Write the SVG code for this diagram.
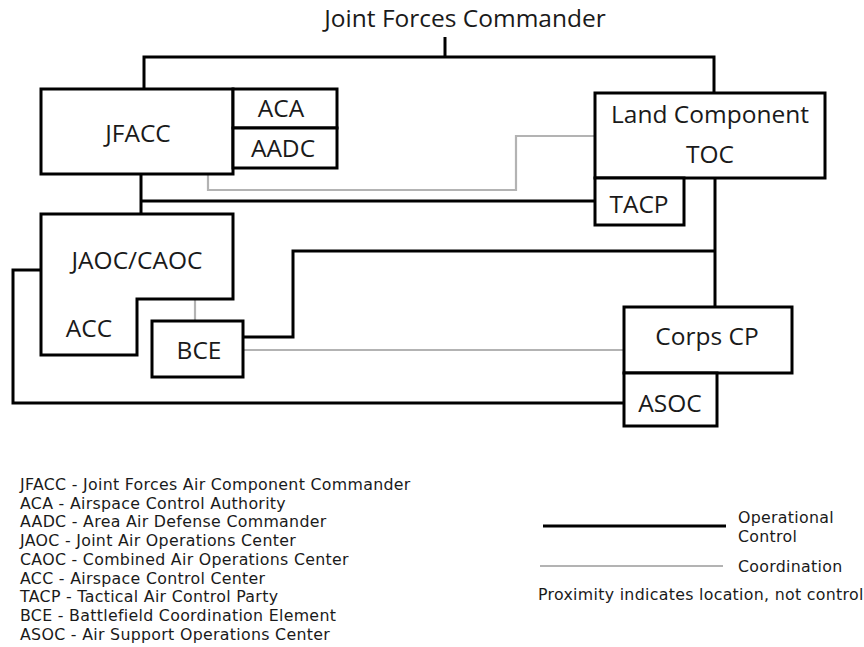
<svg xmlns="http://www.w3.org/2000/svg" width="864" height="647" viewBox="0 0 864 647">
<style>
text{font-family:"Open Sans","Noto Sans","DejaVu Sans",sans-serif;fill:#1a1a1a}
.lbl{font-size:24.5px;text-anchor:middle}
.leg{font-family:"DejaVu Sans","Open Sans",sans-serif;font-size:15.8px;letter-spacing:0.3px}
.box{fill:#fff;stroke:#000;stroke-width:3}
.ctl{fill:none;stroke:#000;stroke-width:3}
.crd{fill:none;stroke:#b3b3b3;stroke-width:2.2}
</style>
<rect width="864" height="647" fill="#fff"/>
<g id="connectors">
<polyline class="ctl" points="445,37 445,57"/>
<polyline class="ctl" points="144,89 144,57 714,57 714,93"/>
<polyline class="ctl" points="141,174 141,214"/>
<polyline class="ctl" points="141,201 597,201"/>
<polyline class="ctl" points="715,178 715,307"/>
<polyline class="ctl" points="243,337 293,337 293,251 715,251"/>
<polyline class="ctl" points="43,270 13,270 13,403 624,403"/>
<polyline class="crd" points="208,174 208,190 516,190 516,136 597,136"/>
<polyline class="crd" points="195,299 195,321"/>
<polyline class="crd" points="243,350 624,350"/>
</g>
<g id="jfc">
<text class="lbl" x="465" y="27">Joint Forces Commander</text>
</g>
<g id="jfacc">
<rect class="box" x="41" y="89" width="192" height="85"/>
<text class="lbl" x="138" y="142">JFACC</text>
</g>
<g id="aca">
<rect class="box" x="233" y="89" width="104" height="39"/>
<text class="lbl" x="281" y="117">ACA</text>
</g>
<g id="aadc">
<rect class="box" x="233" y="128" width="104" height="40"/>
<text class="lbl" x="283" y="157">AADC</text>
</g>
<g id="land">
<rect class="box" x="595" y="93" width="230" height="85"/>
<text class="lbl" x="710" y="123">Land Component</text>
<text class="lbl" x="710" y="163">TOC</text>
</g>
<g id="tacp">
<rect class="box" x="595" y="178" width="89" height="47"/>
<text class="lbl" x="639" y="213">TACP</text>
</g>
<g id="jaoc">
<polygon class="box" points="41,214 233,214 233,299 137,299 137,355 41,355"/>
<text class="lbl" x="137" y="269">JAOC/CAOC</text>
<text class="lbl" x="89" y="337">ACC</text>
</g>
<g id="bce">
<rect class="box" x="152" y="321" width="91" height="56"/>
<text class="lbl" x="199" y="359">BCE</text>
</g>
<g id="corps">
<rect class="box" x="624" y="307" width="168" height="66"/>
<text class="lbl" x="707" y="345">Corps CP</text>
</g>
<g id="asoc">
<rect class="box" x="624" y="373" width="93" height="53"/>
<text class="lbl" x="670" y="412">ASOC</text>
</g>
<g id="legend">
<text class="leg" x="20" y="490">JFACC - Joint Forces Air Component Commander</text>
<text class="leg" x="20" y="508.7">ACA - Airspace Control Authority</text>
<text class="leg" x="20" y="527.4">AADC - Area Air Defense Commander</text>
<text class="leg" x="20" y="546.1">JAOC - Joint Air Operations Center</text>
<text class="leg" x="20" y="564.8">CAOC - Combined Air Operations Center</text>
<text class="leg" x="20" y="583.5">ACC - Airspace Control Center</text>
<text class="leg" x="20" y="602.2">TACP - Tactical Air Control Party</text>
<text class="leg" x="20" y="620.9">BCE - Battlefield Coordination Element</text>
<text class="leg" x="20" y="639.6">ASOC - Air Support Operations Center</text>
<line class="ctl" x1="543" y1="526" x2="726" y2="526"/>
<line class="crd" x1="540" y1="566" x2="723" y2="566"/>
<text class="leg" x="738" y="523">Operational</text>
<text class="leg" x="738" y="541.6">Control</text>
<text class="leg" x="738" y="572">Coordination</text>
<text class="leg" x="538" y="600">Proximity indicates location, not control</text>
</g>
</svg>
